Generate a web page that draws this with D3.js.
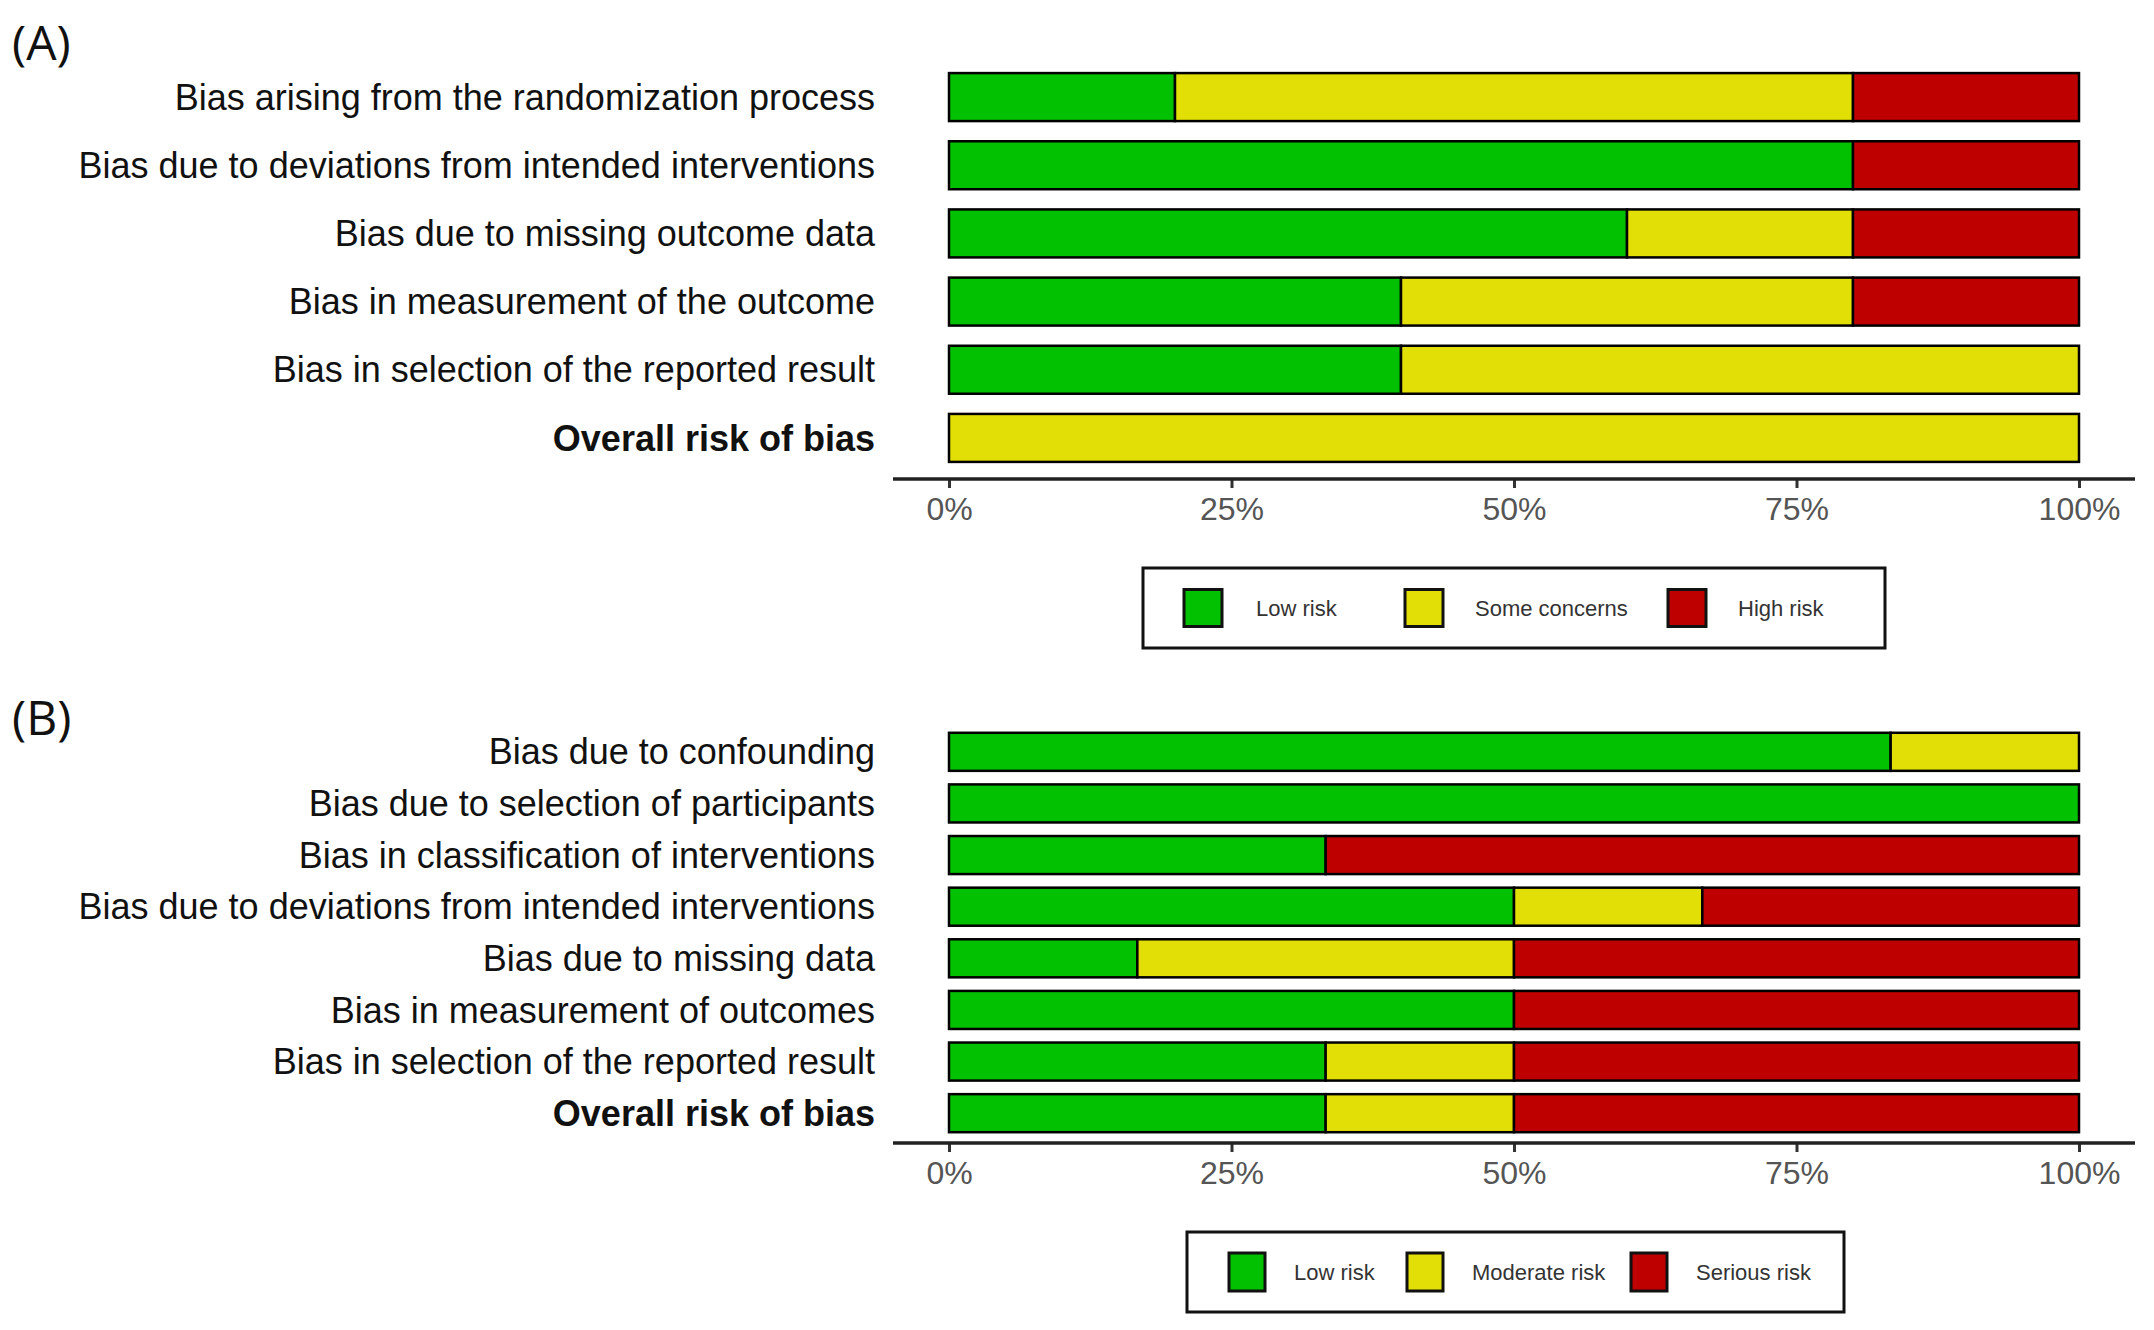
<!DOCTYPE html>
<html>
<head>
<meta charset="utf-8">
<script src="https://cdn.jsdelivr.net/npm/d3@7"></script>
<style>
  body { margin: 0; background: #fff; }
  svg { display: block; }
</style>
</head>
<body>
<div id="chart-area"></div>
<script>
// Panel A - RoB 2, counts out of 5 studies
var domainsA = [
    "Bias arising from the randomization process",
    "Bias due to deviations from intended interventions",
    "Bias due to missing outcome data",
    "Bias in measurement of the outcome",
    "Bias in selection of the reported result",
    "Overall risk of bias"
];
var lowA  = [1, 4, 3, 2, 2, 0];
var someA = [3, 0, 1, 2, 3, 5];
var highA = [1, 1, 1, 1, 0, 0];
var nA = 5;
var legendA = ["Low risk", "Some concerns", "High risk"];

// Panel B - ROBINS-I, counts out of 6 studies
var domainsB = [
    "Bias due to confounding",
    "Bias due to selection of participants",
    "Bias in classification of interventions",
    "Bias due to deviations from intended interventions",
    "Bias due to missing data",
    "Bias in measurement of outcomes",
    "Bias in selection of the reported result",
    "Overall risk of bias"
];
var lowB     = [5, 6, 2, 3, 1, 3, 2, 2];
var modB     = [1, 0, 0, 1, 2, 0, 1, 1];
var seriousB = [0, 0, 4, 2, 3, 3, 3, 3];
var nB = 6;
var legendB = ["Low risk", "Moderate risk", "Serious risk"];

var tickValues = [0, 0.25, 0.5, 0.75, 1];
var colours = ["#02C100", "#E2DF07", "#BF0000"];

var width = 2154, height = 1330;

var svg = d3.select("#chart-area")
    .append("svg")
    .attr("width", width)
    .attr("height", height);

var x = d3.scaleLinear().domain([0, 1]).range([949, 2079]);

function drawPanel(p) {
    var g = svg.append("g");
    var keys = ["low", "mid", "high"];

    var rows = p.domains.map(function(d, i) {
        return { domain: d, low: p.series[0][i] / p.n,
                 mid: p.series[1][i] / p.n, high: p.series[2][i] / p.n };
    });

    var y = d3.scaleBand()
        .domain(p.domains)
        .range(p.yRange)
        .paddingInner(p.pad)
        .paddingOuter(p.pad / 2);

    // panel tag
    g.append("text")
        .attr("x", 12)
        .attr("y", p.tagY)
        .attr("font-family", "Open Sans, sans-serif")
        .attr("font-size", "48px")
        .attr("fill", "#111")
        .text(p.tag);

    // stacked bars
    var stacked = d3.stack().keys(keys)(rows);
    g.selectAll(".layer")
        .data(stacked)
        .enter().append("g")
        .attr("fill", function(d, i) { return colours[i]; })
        .selectAll("rect")
        .data(function(d) { return d.filter(function(s) { return s[1] - s[0] > 0; }); })
        .enter().append("rect")
        .attr("x", function(d) { return x(d[0]); })
        .attr("width", function(d) { return x(d[1]) - x(d[0]); })
        .attr("y", function(d) { return y(d.data.domain); })
        .attr("height", y.bandwidth())
        .attr("stroke", "#000")
        .attr("stroke-width", 2.5);

    // domain labels
    g.selectAll(".label")
        .data(p.domains)
        .enter().append("text")
        .attr("x", 875)
        .attr("y", function(d) { return y(d) + y.bandwidth() / 2; })
        .attr("dy", "0.35em")
        .attr("text-anchor", "end")
        .attr("font-family", "Liberation Sans, Arial, sans-serif")
        .attr("font-size", "36px")
        .attr("font-weight", function(d, i) { return i === p.domains.length - 1 ? "bold" : "normal"; })
        .attr("fill", "#111")
        .text(function(d) { return d; });

    // x axis
    var xAxis = g.append("g")
        .attr("transform", "translate(0," + p.axisY + ")")
        .call(d3.axisBottom(x)
            .tickValues(tickValues)
            .tickFormat(d3.format(".0%"))
            .tickSize(9)
            .tickPadding(9));
    xAxis.select(".domain").remove();
    xAxis.selectAll(".tick line").attr("stroke", "#333").attr("stroke-width", 3);
    xAxis.selectAll(".tick text")
        .attr("font-family", "Liberation Sans, Arial, sans-serif")
        .attr("font-size", "32px")
        .attr("fill", "#555");
    xAxis.append("line")
        .attr("x1", x(0) - 56)
        .attr("x2", x(1) + 56)
        .attr("stroke", "#222")
        .attr("stroke-width", 3.5);

    // legend
    var lg = g.append("g")
        .attr("transform", "translate(" + p.legend.x + "," + p.legend.y + ")");
    lg.append("rect")
        .attr("width", p.legend.w)
        .attr("height", p.legend.h)
        .attr("fill", "#fff")
        .attr("stroke", "#111")
        .attr("stroke-width", 3);
    var items = lg.selectAll(".item")
        .data(p.legendLabels)
        .enter().append("g");
    items.append("rect")
        .attr("x", function(d, i) { return p.legend.keyX[i]; })
        .attr("y", (p.legend.h - p.legend.keyH) / 2)
        .attr("width", p.legend.keyW)
        .attr("height", p.legend.keyH)
        .attr("fill", function(d, i) { return colours[i]; })
        .attr("stroke", "#111")
        .attr("stroke-width", 3);
    items.append("text")
        .attr("x", function(d, i) { return p.legend.textX[i]; })
        .attr("y", p.legend.h / 2)
        .attr("dy", "0.35em")
        .attr("font-family", "Liberation Sans, Arial, sans-serif")
        .attr("font-size", "22px")
        .attr("fill", "#333")
        .text(function(d) { return d; });
}

drawPanel({
    tag: "(A)", tagY: 60,
    domains: domainsA, series: [lowA, someA, highA], n: nA,
    yRange: [63, 472], pad: 0.296, axisY: 479,
    legendLabels: legendA,
    legend: { x: 1143, y: 568, w: 742, h: 80, keyW: 38, keyH: 37,
              keyX: [41, 262, 525], textX: [113, 332, 595] }
});

drawPanel({
    tag: "(B)", tagY: 735,
    domains: domainsB, series: [lowB, modB, seriousB], n: nB,
    yRange: [726, 1139], pad: 0.263, axisY: 1143,
    legendLabels: legendB,
    legend: { x: 1187, y: 1232, w: 657, h: 80, keyW: 36, keyH: 38,
              keyX: [42, 220, 444], textX: [107, 285, 509] }
});
</script>
</body>
</html>
